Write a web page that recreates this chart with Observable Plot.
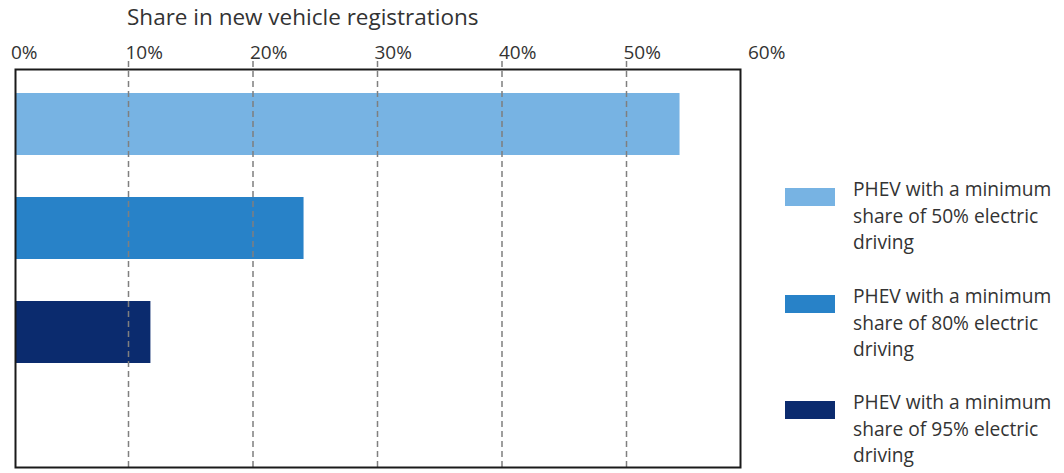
<!DOCTYPE html>
<html>
<head>
<meta charset="utf-8">
<script src="https://cdn.jsdelivr.net/npm/d3@7"></script>
<script src="https://cdn.jsdelivr.net/npm/@observablehq/plot@0.6"></script>
<style>
  html, body { margin: 0; padding: 0; background: #fff; }
  body { width: 1064px; height: 473px; overflow: hidden; font-family: "Open Sans", "Noto Sans", sans-serif; color: #333; }
  #wrap { position: relative; width: 1064px; height: 473px; }
  #title { position: absolute; left: 127px; top: 6px; font-size: 22.5px; line-height: 1; color: #333; white-space: nowrap; }
  #legend { position: absolute; left: 785px; top: 0; }
  .item { position: absolute; left: 0; width: 290px; }
  .sw { position: absolute; left: 0; width: 50px; height: 18px; }
  .lt { position: absolute; left: 68px; width: 220px; font-size: 19.2px; line-height: 26.5px; color: #333; }
</style>
</head>
<body>
<div id="wrap">
  <div id="chart"></div>
  <div id="title">Share in new vehicle registrations</div>
  <div id="legend"></div>
</div>
<script>
const categories = [
  "PHEV with a minimum share of 50% electric driving",
  "PHEV with a minimum share of 80% electric driving",
  "PHEV with a minimum share of 95% electric driving"
];
const values = [54.3, 24.1, 11.8];
const colors = ["#77b3e3", "#2882c8", "#0b2b6e"];
const tickValues = [10, 20, 30, 40, 50, 60];
const firstTick = [0];
const gridValues = [10, 20, 30, 40, 50];

const data = categories.map((c, i) => ({category: c, value: values[i]}));
const axisStyle = {anchor: "top", tickSize: 0, tickPadding: 11, textAnchor: "start",
  tickFormat: d => d + "%", fontSize: 19, fill: "#333", label: null};

const chart = Plot.plot({
  width: 1064,
  height: 473,
  marginTop: 69,
  marginBottom: 6,
  marginLeft: 15,
  marginRight: 324,
  style: {fontFamily: "'Open Sans', 'Noto Sans', sans-serif", color: "#333", background: "#fff"},
  x: {domain: [0, 60], range: [3.5, 750.5]},
  y: {domain: categories, range: [92, 363], paddingInner: 0.407, paddingOuter: 0, axis: null},
  color: {domain: categories, range: colors},
  marks: [
    Plot.barX(data, {y: "category", x: "value", fill: "category", clip: true}),
    Plot.ruleX(gridValues, {stroke: "#7f7f7f", strokeWidth: 1.5, strokeDasharray: "6,4", insetTop: -8}),
    Plot.frame({stroke: "#1a1a1a", strokeWidth: 2}),
    Plot.axisX(tickValues, {...axisStyle, dx: -3}),
    Plot.axisX(firstTick, {...axisStyle, dx: 7})
  ]
});
document.getElementById("chart").appendChild(chart);

const legend = document.getElementById("legend");
const swatchTops = [188, 295, 401];
categories.forEach((c, i) => {
  const item = document.createElement("div");
  item.className = "item";
  item.style.top = swatchTops[i] + "px";
  const sw = document.createElement("div");
  sw.className = "sw";
  sw.style.background = colors[i];
  const lt = document.createElement("div");
  lt.className = "lt";
  lt.style.top = "-12px";
  lt.textContent = c;
  item.appendChild(sw);
  item.appendChild(lt);
  legend.appendChild(item);
});
</script>
</body>
</html>
